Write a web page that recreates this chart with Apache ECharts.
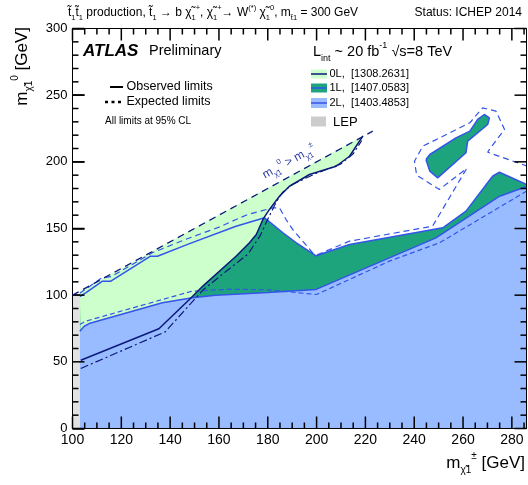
<!DOCTYPE html>
<html><head><meta charset="utf-8">
<script src="https://cdn.jsdelivr.net/npm/echarts/dist/echarts.min.js"></script>
<style>html,body{margin:0;padding:0;background:#fff}#c{width:528px;height:485px}</style>
</head><body><div id="c"></div>
<script>
// ---- axis ranges / ticks ----
const xAxisRange = [100, 286];
const xTickStep = 20, xMinorStep = 5;
const yAxisRange = [0, 300];
const yTickStep = 50, yMinorStep = 10;

// ---- contours (m_chargino [GeV], m_neutralino [GeV]) ----
const kinematicLimit = [[100, 100], [223, 223]];
const lepLimit = [[100, 0], [103, 0], [103, 100], [100, 100]];

const obs0L = [[103.4, 51.2], [135.4, 74.8], [148, 97], [153.5, 107], [167, 129.2], [172.5, 139.3], [175.3, 145.5], [178, 156.8], [180.7, 164.3], [184.8, 174.2], [188.9, 181.7], [197.1, 190.5], [208, 196.7], [213.5, 204.2], [216.2, 211.7], [219, 219.5]];
const exp0L = [[103.4, 45], [138, 72.5], [153.5, 104], [163, 118], [172, 131], [177, 145], [180, 157], [183.5, 170], [186, 177], [190, 183], [200, 191.5], [210, 198.5], [215, 206], [218.5, 216]];

const obs1L = [[103, 99], [105.4, 101.8], [112.3, 110.5], [115.7, 110.5], [132, 129.2], [134.8, 129.2], [147.7, 138.5], [167, 151.7], [178.7, 158], [186.2, 146.8], [191.7, 139.3], [199.8, 129.5], [213.5, 138], [251.7, 150.5], [261.2, 163], [272.1, 189.2], [274.9, 192.2], [286, 183]];
const obs1LIsland = [[244.8, 201.8], [246.4, 193], [249.6, 188], [261.2, 206.8], [261.9, 215.5], [270.1, 228], [270.8, 233], [268.7, 235.5], [266, 231.8], [262.8, 223], [257.1, 218], [246.4, 205.5], [244.8, 201.8]];
const exp1L = [[103, 101.5], [112, 113], [116, 114], [132.7, 131.8], [146.3, 141.8], [160, 151], [167, 156.7], [171.8, 160.5], [182, 165.5], [184.8, 165.5], [187.5, 156.7], [190.2, 149.3], [198.4, 131.8], [200.5, 130.5], [213.5, 140.5], [247.5, 151.7], [261.5, 195], [250.3, 179.3], [241, 190], [240.1, 200.5], [243.5, 211.7], [254.6, 221.8], [262.8, 229.3], [268, 240.5], [273.5, 238], [277, 224.3], [270.8, 209.3], [270.1, 207.2], [286, 197]];
const exp1LDot = [[265.1, 198.5]];

const obs2L = [[103, 73], [104.8, 76.7], [106.8, 78.7], [136.8, 94.3], [149.1, 98], [158.6, 100], [180, 102], [199.8, 104.3], [248.9, 143], [275, 174.2], [286, 181.5]];
const exp2L = [[103, 78], [105.4, 80.5], [149, 103], [165, 104.5], [180, 104], [200, 100.5], [229.8, 125.5], [250.4, 139.3], [286, 178]];

// ---- polygons built from the contours ----
const poly1L = obs1L.concat([[286, 0], [103, 0]]);
const poly0L = obs0L.concat([[103, 103]]);
const poly2L = [[103, 0]].concat(obs2L, [[286, 0]]);

const C0 = '#ccffcc', C1 = '#1ea47c', C2 = '#99bbff';
const NAVY = '#0b1a7a', BLUE = '#3355e8', LEPC = '#e2e2e2';
const FF = '"Liberation Sans", Arial, sans-serif';

function polySeries(pts, fill, z) {
  return { type: 'custom', data: [[pts[0][0], pts[0][1]]], clip: true, z: z, silent: true, animation: false,
    renderItem: function (params, api) {
      return { type: 'polygon', shape: { points: pts.map(p => api.coord(p)) }, style: { fill: fill } };
    } };
}
function lineSeries(pts, color, width, type, z) {
  return { type: 'line', data: pts, showSymbol: false, symbol: 'none', clip: true, silent: true, animation: false,
    z: z, lineStyle: { color: color, width: width, type: type } };
}

// frame + ROOT-style inward ticks on all four sides, placed through the axes
const frameSeries = {
  type: 'custom', data: [[xAxisRange[0], yAxisRange[0]]], clip: false, z: 6, animation: false,
  renderItem: function (params, api) {
    const ch = [];
    const p00 = api.coord([xAxisRange[0], yAxisRange[0]]);
    const p11 = api.coord([xAxisRange[1], yAxisRange[1]]);
    ch.push({ type: 'rect', shape: { x: p00[0], y: p11[1], width: p11[0] - p00[0], height: p00[1] - p11[1] }, style: { fill: 'none', stroke: '#000', lineWidth: 1 } });
    const W = 1.5;
    for (let i = 0; i * xMinorStep <= xAxisRange[1] - xAxisRange[0]; i++) {
      const v = xAxisRange[0] + i * xMinorStep;
      const L = (v % xTickStep === 0) ? 12 : 6;
      const b = api.coord([v, yAxisRange[0]]);
      ch.push({ type: 'rect', shape: { x: b[0] - W / 2, y: p00[1] - L, width: W, height: L }, style: { fill: '#000' } });
      ch.push({ type: 'rect', shape: { x: b[0] - W / 2, y: p11[1], width: W, height: L }, style: { fill: '#000' } });
    }
    for (let i = 0; i * yMinorStep <= yAxisRange[1] - yAxisRange[0]; i++) {
      const v = yAxisRange[0] + i * yMinorStep;
      const L = (v % yTickStep === 0) ? 12 : 6;
      const l = api.coord([xAxisRange[0], v]);
      ch.push({ type: 'rect', shape: { x: p00[0], y: l[1] - W / 2, width: L, height: W }, style: { fill: '#000' } });
      ch.push({ type: 'rect', shape: { x: p11[0] - L, y: l[1] - W / 2, width: L, height: W }, style: { fill: '#000' } });
    }
    return { type: 'group', children: ch };
  }
};

const chart = echarts.init(document.getElementById('c'), null, { renderer: 'canvas' });

const graphics = [
  { type: 'text', x: 68, y: 13, style: { text: '{n|t\u0303}{s|1}{n|t\u0303}{s|1}{n| production, t\u0303}{s|1}{n| \u2192 b \u03c7\u0303}{s|1}{p|+}{n|, \u03c7\u0303}{s|1}{p|+}{n|\u2192 W}{p|(*)}{n| \u03c7\u0303}{s|1}{p|0}{n|, m}{s|t\u0303}{s|1}{n| = 300 GeV}',
      verticalAlign: 'middle', fontFamily: FF,
      rich: { n: { fontSize: 12, lineHeight: 18, fontFamily: FF, fill: '#000' }, s: { fontSize: 7.5, lineHeight: 9, verticalAlign: 'bottom', fontFamily: FF, fill: '#000' }, p: { fontSize: 7.5, lineHeight: 9, verticalAlign: 'top', fontFamily: FF, fill: '#000' } } } },
  { type: 'text', x: 522, y: 13, style: { text: 'Status: ICHEP 2014', align: 'right', verticalAlign: 'middle', font: '12px ' + FF, fill: '#000' } },
  { type: 'text', x: 83, y: 51, style: { text: 'ATLAS', verticalAlign: 'middle', font: 'italic bold 17px ' + FF, fill: '#000' } },
  { type: 'text', x: 149, y: 51, style: { text: 'Preliminary', verticalAlign: 'middle', font: '14.5px ' + FF, fill: '#000' } },
  { type: 'line', shape: { x1: 110, y1: 87, x2: 123, y2: 87 }, style: { stroke: '#000', lineWidth: 2 } },
  { type: 'line', shape: { x1: 105, y1: 102, x2: 123, y2: 102 }, style: { stroke: '#000', lineWidth: 2.5, lineDash: [3, 3.5] } },
  { type: 'text', x: 126.5, y: 87, style: { text: 'Observed limits', verticalAlign: 'middle', font: '12.5px ' + FF, fill: '#000' } },
  { type: 'text', x: 126.5, y: 101.5, style: { text: 'Expected limits', verticalAlign: 'middle', font: '12.5px ' + FF, fill: '#000' } },
  { type: 'text', x: 105, y: 121, style: { text: 'All limits at 95% CL', verticalAlign: 'middle', font: '10px ' + FF, fill: '#000' } },
  { type: 'text', x: 313, y: 52, style: { text: '{n|L}{s|int}{n| ~ 20 fb}{p|-1}{n| \u221as=8 TeV}', verticalAlign: 'middle',
      rich: { n: { fontSize: 14.5, lineHeight: 22, fontFamily: FF, fill: '#000' }, s: { fontSize: 9, lineHeight: 11, verticalAlign: 'bottom', fontFamily: FF, fill: '#000' }, p: { fontSize: 9, lineHeight: 11, verticalAlign: 'top', fontFamily: FF, fill: '#000' } } } },
  { type: 'rect', shape: { x: 311, y: 69.5, width: 16, height: 9 }, style: { fill: C0 } },
  { type: 'line', shape: { x1: 311, y1: 74, x2: 327, y2: 74 }, style: { stroke: NAVY, lineWidth: 1.5 } },
  { type: 'rect', shape: { x: 311, y: 83.5, width: 16, height: 9 }, style: { fill: C1 } },
  { type: 'line', shape: { x1: 311, y1: 88, x2: 327, y2: 88 }, style: { stroke: BLUE, lineWidth: 1.5 } },
  { type: 'rect', shape: { x: 311, y: 98, width: 16, height: 10 }, style: { fill: C2 } },
  { type: 'line', shape: { x1: 311, y1: 103, x2: 327, y2: 103 }, style: { stroke: BLUE, lineWidth: 1.5 } },
  { type: 'rect', shape: { x: 311, y: 116.5, width: 15, height: 10 }, style: { fill: '#cccccc' } },
  { type: 'text', x: 329.5, y: 74, style: { text: '0L,  [1308.2631]', verticalAlign: 'middle', font: '11px ' + FF, fill: '#000' } },
  { type: 'text', x: 329.5, y: 88, style: { text: '1L,  [1407.0583]', verticalAlign: 'middle', font: '11px ' + FF, fill: '#000' } },
  { type: 'text', x: 329.5, y: 102.5, style: { text: '2L,  [1403.4853]', verticalAlign: 'middle', font: '11px ' + FF, fill: '#000' } },
  { type: 'text', x: 333, y: 122, style: { text: 'LEP', verticalAlign: 'middle', font: '13px ' + FF, fill: '#000' } },
  { type: 'text', x: 289, y: 162, rotation: 0.5, style: { text: '{m|m}{s|\u03c7\u0303}{s|1}{p|0}{m| > m}{s|\u03c7\u0303}{s|1}{p|\u00b1}', align: 'center', verticalAlign: 'middle',
      rich: { m: { fontSize: 12, lineHeight: 18, fontFamily: FF, fill: '#2b3c9e' }, s: { fontSize: 7.5, lineHeight: 9, verticalAlign: 'bottom', fontFamily: FF, fill: '#2b3c9e' }, p: { fontSize: 7.5, lineHeight: 9, verticalAlign: 'top', fontFamily: FF, fill: '#2b3c9e' } } } },
  { type: 'text', x: 525, y: 463, style: { text: '{m|m}{s|\u03c7\u0303}{s|1}{p|\u00b1}{m| [GeV]}', align: 'right', verticalAlign: 'middle',
      rich: { m: { fontSize: 17, lineHeight: 24, fontFamily: FF, fill: '#000' }, s: { fontSize: 10, lineHeight: 12, verticalAlign: 'bottom', fontFamily: FF, fill: '#000' }, p: { fontSize: 10, lineHeight: 12, verticalAlign: 'top', fontFamily: FF, fill: '#000' } } } },
  { type: 'text', x: 22, y: 27, rotation: Math.PI / 2, style: { text: '{m|m}{s|\u03c7\u0303}{s|1}{p|0}{m| [GeV]}', align: 'right', verticalAlign: 'middle',
      rich: { m: { fontSize: 17, lineHeight: 24, fontFamily: FF, fill: '#000' }, s: { fontSize: 10, lineHeight: 12, verticalAlign: 'bottom', fontFamily: FF, fill: '#000' }, p: { fontSize: 10, lineHeight: 12, verticalAlign: 'top', fontFamily: FF, fill: '#000' } } } }
];

chart.setOption({
  animation: false,
  grid: { left: 72.5, right: 1.5, top: 28.5, bottom: 56.5 },
  xAxis: { type: 'value', min: xAxisRange[0], max: xAxisRange[1], interval: xTickStep, splitLine: { show: false },
    axisLine: { show: true, onZero: false, lineStyle: { color: '#000', width: 1 } },
    axisTick: { show: true, inside: true, length: 12, lineStyle: { color: '#000', width: 1.5 } },
    axisLabel: { fontSize: 14, color: '#000', fontFamily: FF, margin: 5, showMaxLabel: false } },
  yAxis: { type: 'value', min: yAxisRange[0], max: yAxisRange[1], interval: yTickStep, splitLine: { show: false },
    axisLine: { show: true, onZero: false, lineStyle: { color: '#000', width: 1 } },
    axisTick: { show: true, inside: true, length: 12, lineStyle: { color: '#000', width: 1.5 } },
    axisLabel: { fontSize: 13, color: '#000', fontFamily: FF, margin: 5 } },
  series: [
    polySeries(poly1L, C1, 1),
    polySeries(obs1LIsland, C1, 1),
    polySeries(poly0L, C0, 2),
    polySeries(poly2L, C2, 3),
    polySeries(lepLimit, LEPC, 3),
    lineSeries(obs2L, BLUE, 1.5, 'solid', 5),
    lineSeries(exp2L, BLUE, 1.2, [5, 3], 5),
    lineSeries(obs1L, BLUE, 1.5, 'solid', 5),
    lineSeries(obs1LIsland, BLUE, 1.5, 'solid', 5),
    lineSeries(exp1L, BLUE, 1.2, [6, 4], 5),
    { type: 'scatter', data: exp1LDot, symbol: 'emptyCircle', symbolSize: 4, itemStyle: { color: '#fff', borderColor: BLUE, borderWidth: 1 }, z: 5, silent: true, animation: false },
    lineSeries(obs0L, NAVY, 1.5, 'solid', 6),
    lineSeries(exp0L, NAVY, 1.2, [8, 3, 2, 3], 6),
    lineSeries(kinematicLimit, NAVY, 1.3, [7, 5], 6),
    frameSeries
  ],
  graphic: graphics
});
</script></body></html>
